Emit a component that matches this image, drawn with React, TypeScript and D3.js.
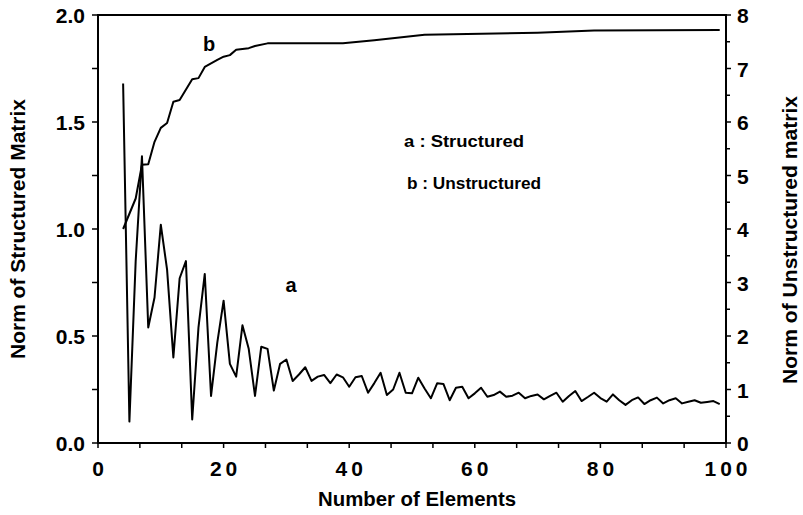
import React from "react";
import * as d3 from "d3";

// ---- data ----
const structElements = [
  4, 5, 6, 7, 8, 9, 10, 11, 12, 13, 14, 15, 16, 17, 18, 19, 20, 21, 22, 23, 24, 25, 26, 27, 28, 29, 30,
  31, 32, 33, 34, 35, 36, 37, 38, 39, 40, 41, 42, 43, 44, 45, 46, 47, 48, 49, 50, 51, 52, 53, 54, 55,
  56, 57, 58, 59, 60, 61, 62, 63, 64, 65, 66, 67, 68, 69, 70, 71, 72, 73, 74, 75, 76, 77, 78, 79, 80,
  81, 82, 83, 84, 85, 86, 87, 88, 89, 90, 91, 92, 93, 94, 95, 96, 97, 98, 99,
];
const structNorm = [
  1.68, 0.1, 0.85, 1.34, 0.54, 0.68, 1.02, 0.81, 0.4, 0.77, 0.85, 0.11, 0.54, 0.79, 0.22, 0.47, 0.665,
  0.37, 0.31, 0.55, 0.44, 0.22, 0.45, 0.44, 0.245, 0.37, 0.39,
  0.29, 0.32, 0.354, 0.29, 0.31, 0.318, 0.28, 0.32, 0.307, 0.263, 0.307, 0.313, 0.235, 0.28, 0.328,
  0.224, 0.25, 0.328, 0.235, 0.232, 0.305, 0.255, 0.209, 0.279, 0.276,
  0.2, 0.258, 0.263, 0.209, 0.232, 0.258, 0.216, 0.224, 0.24, 0.216, 0.221, 0.235, 0.209, 0.22, 0.227,
  0.204, 0.22, 0.235, 0.193, 0.22, 0.243, 0.196, 0.215, 0.235, 0.21,
  0.193, 0.227, 0.2, 0.178, 0.2, 0.213, 0.182, 0.2, 0.212, 0.185, 0.2, 0.209, 0.185, 0.193, 0.2, 0.188,
  0.192, 0.196, 0.182,
];
const unstructElements = [4, 6, 7, 8, 9, 10, 11, 12, 13, 15, 16, 17, 19, 20, 21, 22, 24, 25, 27, 39, 44, 52, 70, 79, 99];
const unstructNorm = [
  4.0, 4.57, 5.2, 5.21, 5.63, 5.89, 5.98, 6.38, 6.41, 6.8, 6.82, 7.03, 7.16, 7.22, 7.25, 7.35, 7.38,
  7.42, 7.47, 7.47, 7.53, 7.63, 7.67, 7.71, 7.72,
];

const xTickLabels = [0, 20, 40, 60, 80, 100];
const leftTickLabels = [0, 0.5, 1.0, 1.5, 2.0];
const rightTickLabels = [0, 1, 2, 3, 4, 5, 6, 7, 8];

const xTitle = "Number of Elements";
const leftTitle = "Norm of Structured Matrix";
const rightTitle = "Norm of Unstructured matrix";
const legendA = "a : Structured";
const legendB = "b : Unstructured";

// ---- layout ----
const W = 803;
const H = 515;
const L = 98;
const R = 726;
const T = 15;
const B = 443;
const FONT = "'Liberation Sans', Arial, Helvetica, sans-serif";

export default function App() {
  const x = d3.scaleLinear().domain([0, 100]).range([L, R]);
  const yL = d3.scaleLinear().domain([0, 2]).range([B, T]);
  const yR = d3.scaleLinear().domain([0, 8]).range([B, T]);

  const aPts = structElements.map((e, i) => [e, structNorm[i]] as [number, number]);
  const bPts = unstructElements.map((e, i) => [e, unstructNorm[i]] as [number, number]);

  const lineA = d3.line<[number, number]>().x((d) => x(d[0])).y((d) => yL(d[1]));
  const lineB = d3.line<[number, number]>().x((d) => x(d[0])).y((d) => yR(d[1]));

  const xMinor = d3.range(0, 100.001, 20 / 3);
  const leftMinor = d3.range(0, 2.001, 0.25);
  const rightMinor = d3.range(0, 8.001, 0.5);

  const textStyle = { fontFamily: FONT, fontWeight: 700, fill: "#000" } as const;

  return (
    <svg width={W} height={H} style={{ position: "absolute", left: 0, top: 0, background: "#fff" }}>
      <rect x={0} y={0} width={W} height={H} fill="#fff" />
      {/* frame */}
      <rect x={L} y={T} width={R - L} height={B - T} fill="none" stroke="#000" strokeWidth={2} />

      {/* x ticks */}
      {xMinor.map((v, i) => (
        <line key={"xt" + i} x1={x(v)} x2={x(v)} y1={B} y2={B + 5} stroke="#000" strokeWidth={1.5} />
      ))}
      {xTickLabels.map((v) => (
        <text
          key={"xl" + v}
          x={x(v) + 2}
          y={476}
          textAnchor="middle"
          fontSize={21}
          letterSpacing={4}
          style={textStyle}
        >
          {String(v)}
        </text>
      ))}

      {/* left ticks */}
      {leftMinor.map((v, i) => (
        <line key={"lt" + i} x1={L - 6} x2={L} y1={yL(v)} y2={yL(v)} stroke="#000" strokeWidth={1.5} />
      ))}
      {leftTickLabels.map((v) => (
        <text key={"ll" + v} x={85} y={yL(v) + 8} textAnchor="end" fontSize={21} style={textStyle}>
          {v.toFixed(1)}
        </text>
      ))}

      {/* right ticks */}
      {rightMinor.map((v, i) => (
        <line
          key={"rt" + i}
          x1={R}
          x2={R + (Number.isInteger(v) ? 5 : 4)}
          y1={yR(v)}
          y2={yR(v)}
          stroke="#000"
          strokeWidth={1.5}
        />
      ))}
      {rightTickLabels.map((v) => (
        <text key={"rl" + v} x={737} y={yR(v) + 8} textAnchor="start" fontSize={21} style={textStyle}>
          {String(v)}
        </text>
      ))}

      {/* series */}
      <path d={lineB(bPts) || ""} fill="none" stroke="#000" strokeWidth={2} strokeLinejoin="round" />
      <path d={lineA(aPts) || ""} fill="none" stroke="#000" strokeWidth={2} strokeLinejoin="round" />

      {/* curve labels */}
      <text x={209} y={51} textAnchor="middle" fontSize={20} style={textStyle}>b</text>
      <text x={291} y={292} textAnchor="middle" fontSize={20} style={textStyle}>a</text>

      {/* legend */}
      <text x={404} y={147} fontSize={17} textLength={120} lengthAdjust="spacingAndGlyphs" style={textStyle}>
        {legendA}
      </text>
      <text x={407} y={189} fontSize={17} textLength={134} lengthAdjust="spacingAndGlyphs" style={textStyle}>
        {legendB}
      </text>

      {/* axis titles */}
      <text x={417} y={506} textAnchor="middle" fontSize={20} textLength={198} lengthAdjust="spacingAndGlyphs" style={textStyle}>
        {xTitle}
      </text>
      <text
        transform="translate(25,229) rotate(-90)"
        textAnchor="middle"
        fontSize={21}
        textLength={260}
        lengthAdjust="spacingAndGlyphs"
        style={textStyle}
      >
        {leftTitle}
      </text>
      <text
        transform="translate(797,240) rotate(-90)"
        textAnchor="middle"
        fontSize={21}
        textLength={288}
        lengthAdjust="spacingAndGlyphs"
        style={textStyle}
      >
        {rightTitle}
      </text>
    </svg>
  );
}
